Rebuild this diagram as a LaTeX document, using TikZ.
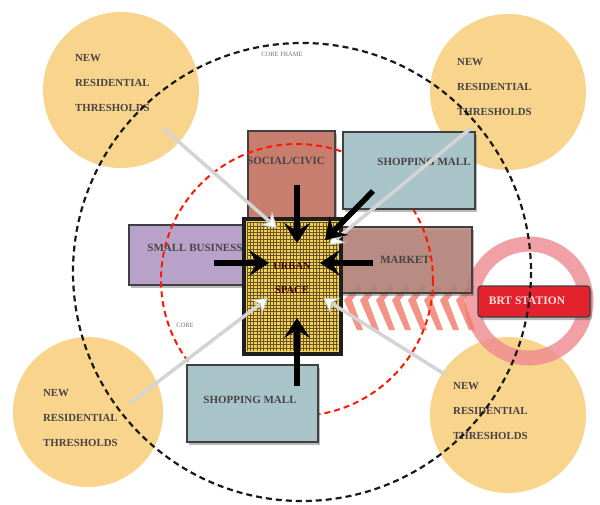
\documentclass[tikz,border=0pt]{standalone}
\usepackage{fontspec}
\setmainfont{Liberation Serif}
\usetikzlibrary{arrows.meta,shadows}

\definecolor{sandy}{HTML}{F8D48C}
\definecolor{civic}{HTML}{C87E6E}
\definecolor{mall}{HTML}{A9C4C8}
\definecolor{lilac}{HTML}{B9A2CA}
\definecolor{market}{HTML}{B8837A}
\definecolor{brt}{HTML}{E4222E}
\definecolor{ring}{HTML}{EE8A90}
\definecolor{salmon}{HTML}{F07A68}
\definecolor{urban}{HTML}{F2D255}
\definecolor{gridc}{HTML}{6A5426}
\definecolor{ink}{HTML}{332E30}

\begin{document}
\begin{tikzpicture}[x=1pt,y=-1pt,
  res/.style={font=\fontsize{10.8}{25}\selectfont\bfseries,text=ink!90,align=left,anchor=north west,inner sep=0pt},
  lbl/.style={font=\fontsize{11}{12}\selectfont\bfseries,text=ink!90,inner sep=0pt},
  box/.style={draw=black!75,line width=1.3pt,inner sep=0pt,
    drop shadow={shadow xshift=2pt,shadow yshift=-3pt,opacity=.45,fill=black!60}},
  thres/.style={circle,fill=sandy,inner sep=0pt},
  blk/.style={line width=5.5pt,-{Stealth[length=20pt,width=26pt,inset=8pt]}},
  pale/.style={line width=3.5pt,draw=black!17,
    -{Stealth[length=15pt,width=19pt,inset=5pt,fill=white,color=black!25,line width=.8pt]}}]
\useasboundingbox[fill=white] (0,0) rectangle (600,504);

% residential thresholds
\node[thres,minimum size=156] (nwres) at (121,90) {};
\node[thres,minimum size=156] (neres) at (508,92) {};
\node[thres,minimum size=150] (swres) at (88,412) {};
\node[thres,minimum size=156] (seres) at (508,415) {};

% brt catchment
\draw[ring,line width=15pt,opacity=.8] (529,301) circle (57);
\foreach \i [evaluate=\i as \x using 344+16*\i] in {0,...,7}
  \fill[salmon,opacity=.8] (\x,300) -- (\x+13,286) -- (\x+19,286) -- (\x+8,300)
    -- (\x+19,330) -- (\x+13,330) -- cycle;

% uses
\node[box,fill=civic,minimum width=87,minimum height=94] (civic) at (291.5,178) {};
\node[box,fill=lilac,minimum width=122,minimum height=60] (small) at (190,255) {};
\node[box,fill=market,fill opacity=.85,minimum width=134,minimum height=66] (market) at (405,260) {};
\draw[red!80!orange,line width=2pt,dash pattern=on 6pt off 4pt] (297,280) circle (136);
\node[box,fill=mall,minimum width=132,minimum height=77] (mallN) at (409,170.5) {};
\node[box,fill=mall,minimum width=131,minimum height=77] (mallS) at (252.5,403.5) {};

\node[lbl] (civicL) at (286,161) {SOCIAL/CIVIC};
\node[lbl] (mallNL) at (424,162) {SHOPPING MALL};
\node[lbl] (smallL) at (195,248) {SMALL BUSINESS};
\node[lbl] (marketL) at (405,260) {MARKET};
\node[lbl] (mallSL) at (250,400) {SHOPPING MALL};

% urban space
\node[box,fill=urban,minimum width=95,minimum height=133] (urban) at (292.5,286.5) {};
\foreach \x in {247,250.3,...,339}
  \draw[gridc,line width=.45pt] (\x,222) -- (\x,351);
\foreach \y in {222.5,225.8,...,351}
  \draw[gridc,line width=.45pt] (247,\y) -- (338,\y);
\draw[black!88,line width=4pt] (urban.north west) rectangle (urban.south east);
\node[lbl,text=black!75!red,font=\fontsize{10.5}{24}\selectfont\bfseries,align=center] (urbanL) at (292,278) {URBAN\\SPACE};

\node[box,fill=brt,rounded corners=3pt,minimum width=112,minimum height=31] (brt) at (534,301.5) {};
\node[lbl,text=red!12!white,font=\fontsize{11.5}{12}\selectfont\bfseries] (brtL) at (527,301) {BRT STATION};

\node[res] (nwL) at (75,54.5) {NEW\\RESIDENTIAL\\THRESHOLDS};
\node[res] (neL) at (457,58.5) {NEW\\RESIDENTIAL\\THRESHOLDS};
\node[res] (swL) at (43,389.5) {NEW\\RESIDENTIAL\\THRESHOLDS};
\node[res] (seL) at (453,382.5) {NEW\\RESIDENTIAL\\THRESHOLDS};

% core frame
\draw[black!90,line width=2.2pt,dash pattern=on 6pt off 4pt] (302,272) circle (229);
\node[lbl,text=black!55,font=\fontsize{6.5}{7}\selectfont] (frameL) at (282,54) {CORE FRAME};
\node[lbl,text=black!55,font=\fontsize{6.5}{7}\selectfont] (coreL) at (185,325) {CORE};

% flows
\coordinate (p1) at (163,128); \coordinate (q1) at (277,228);
\coordinate (p2) at (471,128); \coordinate (q2) at (329,245);
\coordinate (p3) at (130,403); \coordinate (q3) at (268,298);
\coordinate (p4) at (446,375); \coordinate (q4) at (323,298);
\draw[pale] (p1) -- (q1);
\draw[pale] (p2) -- (q2);
\draw[pale] (p3) -- (q3);
\draw[pale] (p4) -- (q4);

\coordinate (a1) at (297,185); \coordinate (b1) at (297,243);
\coordinate (a2) at (373,191); \coordinate (b2) at (325,240);
\coordinate (a3) at (214,263); \coordinate (b3) at (269,263);
\coordinate (a4) at (373,263); \coordinate (b4) at (320,263);
\coordinate (a5) at (297,386); \coordinate (b5) at (297,318);
\foreach \s/\t in {a1/b1,a2/b2,a3/b3,a4/b4,a5/b5}
  \draw[blk] (\s) -- (\t);
\end{tikzpicture}
\end{document}
